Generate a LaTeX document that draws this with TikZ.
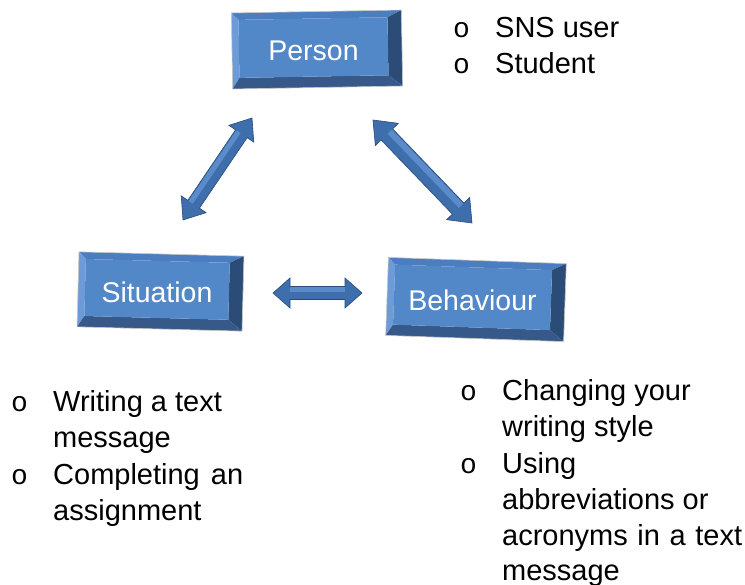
\documentclass[tikz,border=0pt]{standalone}
\usepackage{fontspec}
\setmainfont{Liberation Sans}
\newfontfamily\bulletfont{Liberation Mono}
\definecolor{face}{HTML}{5287C8}
\definecolor{bevtop}{HTML}{4A7EC0}
\definecolor{bevleft}{HTML}{6C9BD8}
\definecolor{bevright}{HTML}{2C4C78}
\definecolor{bevbot}{HTML}{37598A}
\definecolor{arrowfill}{HTML}{3F6EAD}
\definecolor{arrowlight}{HTML}{5A8CCB}
\definecolor{arrowdark}{HTML}{2A4B78}
\newdimen\axd \newdimen\ayd \newdimen\bxd \newdimen\byd
\tikzset{
  boxtext/.style={font=\fontsize{28.5}{34}\selectfont, text=white, inner sep=0pt},
  lst/.style={font=\fontsize{29}{35}\selectfont, inner sep=0pt, anchor=base west, text=black},
  bevedge/.style={draw=gray!45, line width=0.6pt},
}
\newcommand\bul{\llap{\makebox[42pt][l]{\bulletfont\fontsize{28}{34}\selectfont o}}}
% name, cx, cy, w, h, angle, text
\newcommand\bevelbox[7]{%
  \begin{scope}[shift={(#2,#3)}, rotate=#6]
    \pgfmathsetmacro\hw{#4/2}\pgfmathsetmacro\hh{#5/2}
    \fill[bevtop] (-\hw,-\hh) -- (\hw,-\hh) -- (\hw-14,-\hh+7) -- (-\hw+7,-\hh+7) -- cycle;
    \fill[bevleft] (-\hw,-\hh) -- (-\hw+7,-\hh+7) -- (-\hw+7,\hh-11) -- (-\hw,\hh) -- cycle;
    \fill[bevright] (\hw,-\hh) -- (\hw,\hh) -- (\hw-14,\hh-11) -- (\hw-14,-\hh+7) -- cycle;
    \fill[bevbot] (-\hw,\hh) -- (-\hw+7,\hh-11) -- (\hw-14,\hh-11) -- (\hw,\hh) -- cycle;
    \fill[face] (-\hw+7,-\hh+7) rectangle (\hw-14,\hh-11);
    \draw[bevedge] (-\hw,-\hh) rectangle (\hw,\hh);
    \node[boxtext] (#1) at (-3.5,1) {#7};
  \end{scope}}
% from, to, shaft half width, head half width, head length
\newcommand\blockarrow[5]{%
  \pgfextractx{\axd}{\pgfpointanchor{#1}{center}}%
  \pgfextracty{\ayd}{\pgfpointanchor{#1}{center}}%
  \pgfextractx{\bxd}{\pgfpointanchor{#2}{center}}%
  \pgfextracty{\byd}{\pgfpointanchor{#2}{center}}%
  \pgfmathsetmacro\ang{atan2(\byd-\ayd,\bxd-\axd)}%
  \pgfmathsetmacro\len{veclen(\bxd-\axd,\byd-\ayd)}%
  \begin{scope}[shift={(#1)}, rotate=\ang]
    \fill[arrowfill, draw=arrowdark, line width=0.6pt]
      (0,0) -- (#5,#4) -- (#5,#3) -- (\len-#5,#3) -- (\len-#5,#4) -- (\len,0)
      -- (\len-#5,-#4) -- (\len-#5,-#3) -- (#5,-#3) -- (#5,-#4) -- cycle;
    \fill[arrowlight] (#5,-#3+1) -- (\len-#5,-#3+1) -- (\len-#5,-1) -- (#5,-1) -- cycle;
  \end{scope}}
\begin{document}
\begin{tikzpicture}[x=1pt, y=-1pt]
  \useasboundingbox (0,0) rectangle (745,585);
  \fill[white] (0,0) rectangle (745,585);
  \bevelbox{person}{317}{49.5}{170}{76}{1}{Person}
  \bevelbox{situation}{160.5}{291.5}{165}{75}{-1.5}{Situation}
  \bevelbox{behaviour}{476}{299.5}{178}{78}{-2}{Behaviour}

  \coordinate (ls) at (183,220);
  \coordinate (le) at (252,118);
  \coordinate (rs) at (373,120);
  \coordinate (re) at (472,223);
  \coordinate (hs) at (273,293);
  \coordinate (he) at (362,293);
  \blockarrow{ls}{le}{7}{15}{19}
  \blockarrow{rs}{re}{8}{16}{20}
  \blockarrow{hs}{he}{6.5}{15}{17}

  \node[lst] (p1) at (495,38) {\bul SNS user};
  \node[lst] (p2) at (495,74) {\bul Student};

  \node[lst] (s1) at (53,412) {\bul Writing a text};
  \node[lst] (s2) at (53,448) {message};
  \node[lst] (s3) at (53,484) {\bul\makebox[190pt][s]{Completing an}};
  \node[lst] (s4) at (53,520) {assignment};

  \node[lst] (b1) at (502,401) {\bul Changing your};
  \node[lst] (b2) at (502,437) {writing style};
  \node[lst] (b3) at (502,473) {\bul Using};
  \node[lst] (b4) at (502,509) {abbreviations or};
  \node[lst] (b5) at (502,545) {\makebox[240pt][s]{acronyms in a text}};
  \node[lst] (b6) at (502,580) {message};
\end{tikzpicture}
\end{document}
